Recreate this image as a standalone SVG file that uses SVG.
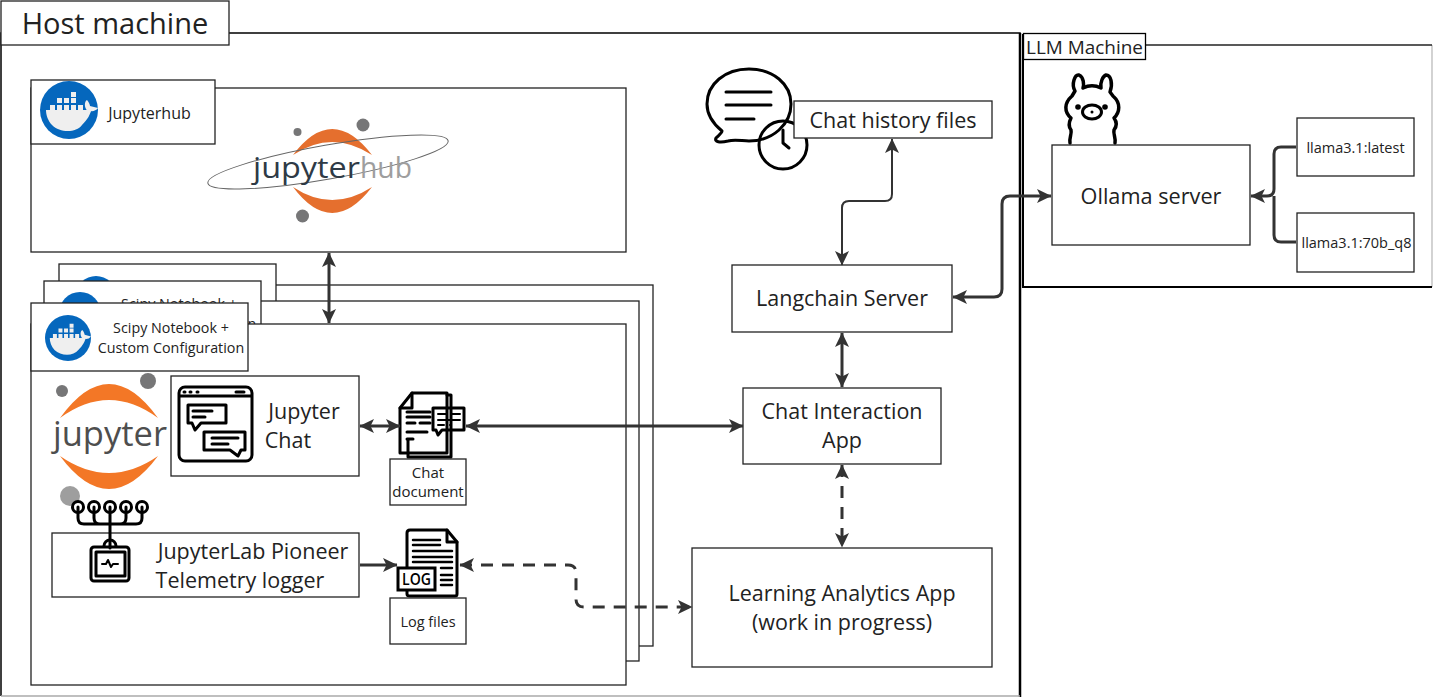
<svg xmlns="http://www.w3.org/2000/svg" width="1439" height="697" viewBox="0 0 1439 697">
<style>
text{font-family:"Open Sans","Noto Sans",sans-serif;fill:#222;text-anchor:middle}
.b{fill:#fff;stroke:#222;stroke-width:1.3}
.c{fill:none;stroke:#333;stroke-width:3}
.d{stroke-dasharray:12 9}
.i{fill:none;stroke:#000;stroke-width:3;stroke-linecap:round;stroke-linejoin:round}
.t1{font-size:21.500px}.t2{font-size:21.500px}.t3{font-size:16px}.t4{font-size:14.300px}.t5{font-size:14.500px}
</style>
<defs>
<marker id="a" viewBox="0 0 15 15" refX="14" refY="7.500" markerWidth="15" markerHeight="15" markerUnits="userSpaceOnUse" orient="auto-start-reverse"><path d="M0 0.500L14.500 7.500L0 14.500L3.500 7.500Z" fill="#333"/></marker>
<symbol id="docker" viewBox="0 0 58 58" overflow="visible">
<circle cx="29" cy="29" r="29" fill="#0567bd"/>
<path d="M6 29H46C48 27 50 26 52 27C50 34 48 38 42 44C36 52 20 52 12 44C8 40 6 34 6 29Z" fill="#efefef"/>
<path d="M46 28C44 24 45 20 47 19C49 21 50 24 50 25L58 27C55 31 50 31 46 28Z" fill="#efefef"/>
<path d="M10 24h5v5h-5zM17 24h5v5h-5zM24 24h5v5h-5zM31 24h5v5h-5zM38 24h5v5h-5zM17 17h5v5h-5zM24 17h5v5h-5zM31 17h5v5h-5zM31 11h5v5h-5z" fill="#efefef"/>
</symbol>
</defs>
<g id="host-machine"><path d="M1 696V33H1020V697" fill="#fff" stroke="#000" stroke-width="1.500"/><path d="M1020 33V697" stroke="#000" stroke-width="2.500"/><path d="M1 696H1020" stroke="#aaa" stroke-width="1.500"/><rect x="1" y="1" width="228" height="44" fill="#fff" stroke="#222" stroke-width="1.300"/><text x="115" y="34" style="font-size:29px">Host machine</text></g>
<g id="llm-machine"><path d="M1023 45H1432V287H1023Z" fill="#fff"/><path d="M1432 45V287" stroke="#bbb" stroke-width="1.300"/><path d="M1023 45H1432" stroke="#222" stroke-width="1.500"/><path d="M1023 34V287H1432" fill="none" stroke="#000" stroke-width="2"/><rect x="1023.500" y="33.500" width="122" height="26" fill="#fff" stroke="#000" stroke-width="1.300"/><text x="1084.500" y="53.500" style="font-size:17.500px" textLength="117" lengthAdjust="spacingAndGlyphs">LLM Machine</text></g>
<g id="jupyterhub"><rect class="b" x="31" y="88" width="595" height="164"/><rect class="b" x="31" y="80" width="184" height="64"/><use href="#docker" x="40" y="81" width="58" height="58"/><text x="149.500" y="119" class="t3">Jupyterhub</text>
<path d="M293 155Q332 103 372 155Q332 129 293 155ZM293 187Q332 239 372 187Q332 213 293 187Z" fill="#e56f2e"/>
<circle cx="297.500" cy="132" r="4" fill="#767677"/><circle cx="363" cy="125" r="6.500" fill="#767677"/><circle cx="302.500" cy="216" r="6.500" fill="#767677"/>
<ellipse cx="328" cy="162" rx="122" ry="17" transform="rotate(-10 328 162)" fill="none" stroke="#666" stroke-width="1"/>
<text x="306.500" y="178" style="font-size:30px;fill:#2e3a46" textLength="107" lengthAdjust="spacingAndGlyphs">jupyter</text><text x="386" y="178" style="font-size:30px;fill:#9e9e9e" textLength="52" lengthAdjust="spacingAndGlyphs">hub</text></g>
<g id="notebook-back"><rect class="b" x="76" y="285" width="577" height="361"/><rect class="b" x="59" y="264" width="217" height="50"/><circle cx="96" cy="296" r="20" fill="#0567bd"/></g>
<g id="notebook-mid"><rect class="b" x="60" y="301" width="579" height="360"/><rect class="b" x="44" y="281" width="217" height="50"/><circle cx="80" cy="313" r="21" fill="#0567bd"/><text x="179" y="309" class="t4">Scipy Notebook +</text><text x="252" y="329" class="t4">n</text></g>
<g id="notebook-front"><rect class="b" x="31" y="324" width="595" height="361"/><rect class="b" x="31" y="303" width="217" height="68"/><use href="#docker" x="45" y="315" width="46" height="46"/><text x="171" y="333" class="t4">Scipy Notebook +</text><text x="171" y="353" class="t4">Custom Configuration</text>
<path d="M60 418Q109 350 158 418Q109 382 60 418ZM60 456Q109 522 158 456Q109 490 60 456Z" fill="#f37726"/>
<circle cx="62" cy="391" r="6" fill="#767677"/><circle cx="148" cy="381" r="8" fill="#767677"/><circle cx="70" cy="496" r="10" fill="#9e9e9e"/>
<text x="110" y="446" style="font-size:35px;fill:#4e4e4e" textLength="114" lengthAdjust="spacingAndGlyphs">jupyter</text></g>
<g id="jupyter-chat"><rect class="b" x="171" y="376" width="188" height="100"/>
<rect class="i" x="179" y="387" width="73" height="74" rx="6"/><path class="i" d="M180 396H251"/><path class="i" d="M184 392h1M190 392h1M197 392h1M236 392h8" stroke-width="2"/>
<path class="i" d="M188 405h38v18h-25l-6 7-3-7h-4z"/><path class="i" d="M193 411h19M193 417h12"/><path class="i" d="M204 432h41v18h-4l-3 6-8-6h-26z"/><path class="i" d="M212 438h26M212 444h16"/>
<text x="304" y="419" class="t2">Jupyter</text><text x="288" y="448" class="t2">Chat</text></g>
<g id="chat-document"><path class="i" d="M408 440v17h43v-62h-4" fill="#fff"/><path class="i" d="M412 393h35v60h-47v-45z" fill="#fff"/><path class="i" d="M412 393v15h-12"/><path class="i" d="M407 412h23M407 417h23M407 423h8M420 423h10M407 432h20M407 439h6"/>
<path class="i" d="M433 408h31v22h-22l-4 5-2-5h-3z" fill="#fff"/><path style="stroke-width:2" class="i" d="M438 414h8M451 414h9M438 420h22M438 425h6M450 425h1"/>
<rect class="b" x="390" y="459" width="76" height="46"/><text x="428" y="478" style="font-size:15px">Chat</text><text x="428" y="497" style="font-size:15px">document</text></g>
<g id="pioneer-logger"><rect class="b" x="52" y="533" width="307" height="64"/>
<g class="i"><circle cx="78" cy="507" r="5.500"/><circle cx="94" cy="507" r="5.500"/><circle cx="110" cy="507" r="5.500"/><circle cx="126" cy="507" r="5.500"/><circle cx="142" cy="507" r="5.500"/><path d="M78 507V518Q78 524 84 524H136Q142 524 142 518V507M94 507V518Q94 524 100 524M126 507V518Q126 524 120 524M110 507V548"/><path d="M104 546a6 6 0 0 1 12 0"/><rect x="91" y="547" width="38" height="34" rx="3"/><rect x="96" y="552" width="29" height="24"/><path d="M102 564h4l2-4 3 7 2-3h5" stroke-width="2"/></g>
<text x="253" y="559" class="t1">JupyterLab Pioneer</text><text x="240" y="588" class="t1">Telemetry logger</text></g>
<g id="log-files"><path class="i" d="M410 530h37l10 12v52q0 2-2 2h-45q-3 0-3-2v-61q0-3 3-3z" fill="#fff"/><path class="i" d="M447 530v12h10"/><path style="stroke-width:2.500" class="i" d="M413 540h27M413 545h27M413 551h39M413 557h39M413 562h39M441 568h11M441 575h11M441 580h11M441 585h11"/><rect x="398" y="568" width="37" height="22" fill="#fff" stroke="#000" stroke-width="3"/><text x="416.500" y="585" style="font-size:17px;font-weight:600;fill:#000" textLength="29" lengthAdjust="spacingAndGlyphs">LOG</text>
<rect class="b" x="390" y="598" width="76" height="46"/><text x="428" y="627" class="t5">Log files</text></g>
<g id="chat-history"><path class="i" d="M722 131C711 122 707 114 707 104C707 84 725 69 749 69C773 69 791 84 791 104C791 124 773 141 749 141C742 141 735 139 728 141C720 143 714 142 716 138C719 135 722 133 722 131Z" fill="#fff"/><path class="i" d="M726 92H771M726 105H771M726 119H754"/><circle class="i" cx="783" cy="145" r="24" fill="#fff"/><path class="i" d="M783 130V143L789 148"/><rect class="b" x="794" y="101" width="198" height="37"/><text x="893" y="128" class="t2">Chat history files</text></g>
<g id="langchain-server"><rect class="b" x="732" y="265" width="220" height="67"/><text x="842" y="306" class="t1">Langchain Server</text></g>
<g id="chat-interaction"><rect class="b" x="743" y="388" width="198" height="76"/><text x="842" y="419" class="t2">Chat Interaction</text><text x="842" y="448" class="t2">App</text></g>
<g id="learning-analytics"><rect class="b" x="692" y="548" width="300" height="119"/><text x="842" y="601" class="t2">Learning Analytics App</text><text x="842" y="630" class="t2">(work in progress)</text></g>
<g id="ollama"><path style="stroke-width:3.500" fill="#fff" class="i" d="M1070 143C1069 138 1072 134 1071 130C1068 126 1069 122 1071 118C1064 112 1064 103 1072 96L1075 91C1071 84 1075 74 1079 75C1084 77 1084 85 1083 88C1089 85 1095 85 1101 88C1100 82 1103 76 1106 75C1111 75 1113 84 1110 92L1113 96C1121 103 1120 112 1114 118C1117 122 1117 126 1114 130C1113 134 1116 138 1115 143"/><ellipse class="i" cx="1092" cy="112" rx="9.500" ry="7"/><circle cx="1078" cy="107" r="2.800"/><circle cx="1105" cy="107" r="2.800"/><circle cx="1092" cy="112" r="1.500"/><rect class="b" x="1052" y="145" width="198" height="100"/><text x="1151" y="203.500" style="font-size:21.700px">Ollama server</text></g>
<g id="llama-latest"><rect class="b" x="1297" y="118" width="117" height="58"/><text x="1355.500" y="152.500" class="t5">llama3.1:latest</text></g>
<g id="llama-70b"><rect class="b" x="1297" y="213" width="117" height="59"/><text x="1356.500" y="247.500" class="t5">llama3.1:70b_q8</text></g>
<g id="connectors">
<path class="c" d="M329 253V323" marker-start="url(#a)" marker-end="url(#a)"/>
<path class="c" d="M360 426H400" marker-start="url(#a)" marker-end="url(#a)"/>
<path class="c" d="M466 426H743" marker-start="url(#a)" marker-end="url(#a)"/>
<path class="c" d="M360 565H397" marker-end="url(#a)"/>
<path class="c d" d="M460 565H568Q576 565 576 573V599Q576 607 584 607H692" marker-start="url(#a)" marker-end="url(#a)"/>
<path class="c" d="M842 265V208Q842 201 849 201H885Q892 201 892 194V139" style="stroke-width:2" marker-start="url(#a)" marker-end="url(#a)"/>
<path class="c" d="M842 333V387" marker-start="url(#a)" marker-end="url(#a)"/>
<path class="c d" d="M842 465V547" marker-start="url(#a)" marker-end="url(#a)"/>
<path class="c" d="M953 297H994Q1002 297 1002 289V204Q1002 196 1010 196H1051" marker-start="url(#a)" marker-end="url(#a)"/>
<path class="c" d="M1296 147H1281Q1274 147 1274 154V189Q1274 196 1267 196H1251" marker-end="url(#a)"/>
<path class="c" d="M1296 242H1281Q1274 242 1274 235V196"/>
</g>
</svg>
